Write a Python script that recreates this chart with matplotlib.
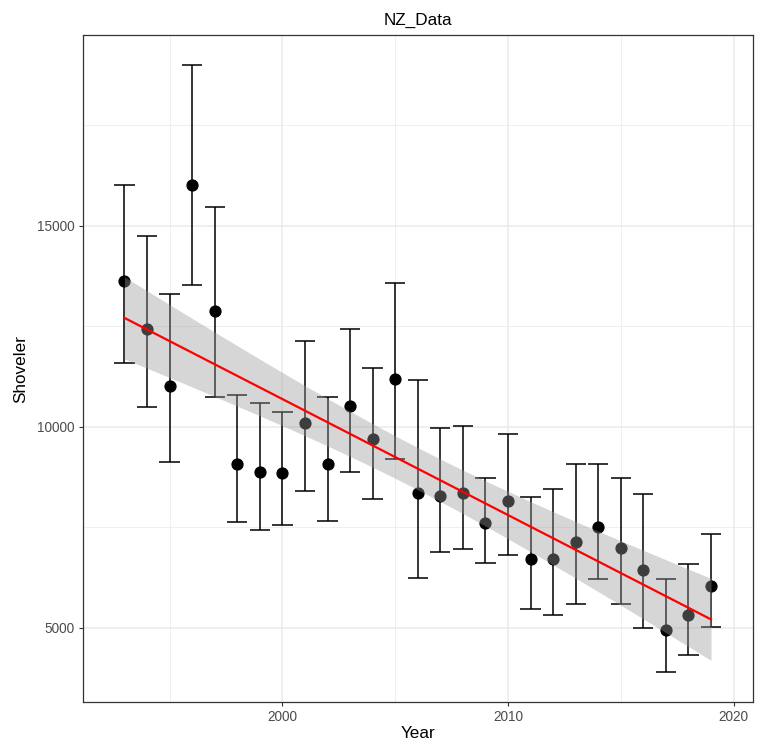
import numpy as np
import matplotlib.pyplot as plt

plt.rcParams['font.family'] = ['Liberation Sans', 'DejaVu Sans']

# data
years = [1993, 1994, 1995, 1996, 1997, 1998, 1999, 2000, 2001, 2002, 2003, 2004, 2005,
         2006, 2007, 2008, 2009, 2010, 2011, 2012, 2013, 2014, 2015, 2016, 2017, 2018, 2019]
shoveler = [13619, 12434, 11018, 16003, 12881, 9066, 8875, 8850, 10099, 9066, 10522, 9687, 11185,
            8346, 8286, 8346, 7601, 8155, 6706, 6706, 7119, 7491, 6987, 6426, 4933, 5315, 6036]
upper = [16003, 14744, 13304, 18984, 15474, 10795, 10596, 10373, 12129, 10745, 12434, 11466, 13577,
         11160, 9960, 10025, 8733, 9826, 8261, 8460, 9074, 9074, 8733, 8321, 6210, 6572, 7317]
lower = [11575, 10497, 9131, 13520, 10745, 7625, 7427, 7541, 8410, 7650, 8882, 8187, 9205,
         6234, 6880, 6962, 6597, 6796, 5455, 5315, 5596, 6210, 5596, 4983, 3900, 4312, 5007]

x = np.array(years, dtype=float)
y = np.array(shoveler, dtype=float)

# linear fit with 95% confidence band (like geom_smooth(method="lm"))
slope, intercept = np.polyfit(x, y, 1)
n = len(x)
resid = y - (slope * x + intercept)
s = np.sqrt(np.sum(resid ** 2) / (n - 2))
sxx = np.sum((x - x.mean()) ** 2)
t_crit = 2.0595  # t(0.975, df=25)
xs = np.linspace(x.min(), x.max(), 80)
fit = slope * xs + intercept
half = t_crit * s * np.sqrt(1 / n + (xs - x.mean()) ** 2 / sxx)

fig = plt.figure(figsize=(7.57, 7.42), dpi=100)
ax = fig.add_axes([0.1093, 0.0539, 0.8851, 0.8989])

cap = 0.45
ax.vlines(x, lower, upper, color='black', lw=1.1, zorder=2)
ax.hlines(upper, x - cap, x + cap, color='black', lw=1.1, zorder=2)
ax.hlines(lower, x - cap, x + cap, color='black', lw=1.1, zorder=2)
ax.plot(x, y, 'o', color='black', markersize=7.8, zorder=3)

ax.fill_between(xs, fit - half, fit + half, color='#999999', alpha=0.4, lw=0, zorder=4)
ax.plot(xs, fit, color='red', lw=1.6, zorder=5)

ax.set_xlim(1991.15, 2020.85)
ax.set_ylim(3150, 19740)
ax.set_xticks([2000, 2010, 2020])
ax.set_xticks([1995, 2005, 2015], minor=True)
ax.set_yticks([5000, 10000, 15000])
ax.set_yticks([7500, 12500, 17500], minor=True)

ax.grid(which='major', color='#EBEBEB', lw=1.1, zorder=0)
ax.grid(which='minor', color='#EBEBEB', lw=0.55, zorder=0)
ax.set_axisbelow(True)
ax.tick_params(which='major', length=3, width=0.8, color='#333333', labelcolor='#4D4D4D',
               labelsize=9.8, pad=3)
ax.tick_params(which='minor', length=0)
for sp in ax.spines.values():
    sp.set_color('#333333')
    sp.set_linewidth(0.9)

ax.set_title('NZ_Data', fontsize=12.3, pad=7)
ax.set_xlabel('Year', fontsize=12.3, labelpad=1)
ax.set_ylabel('Shoveler', fontsize=12.3, labelpad=6)

fig.savefig('out.png', dpi=100)
